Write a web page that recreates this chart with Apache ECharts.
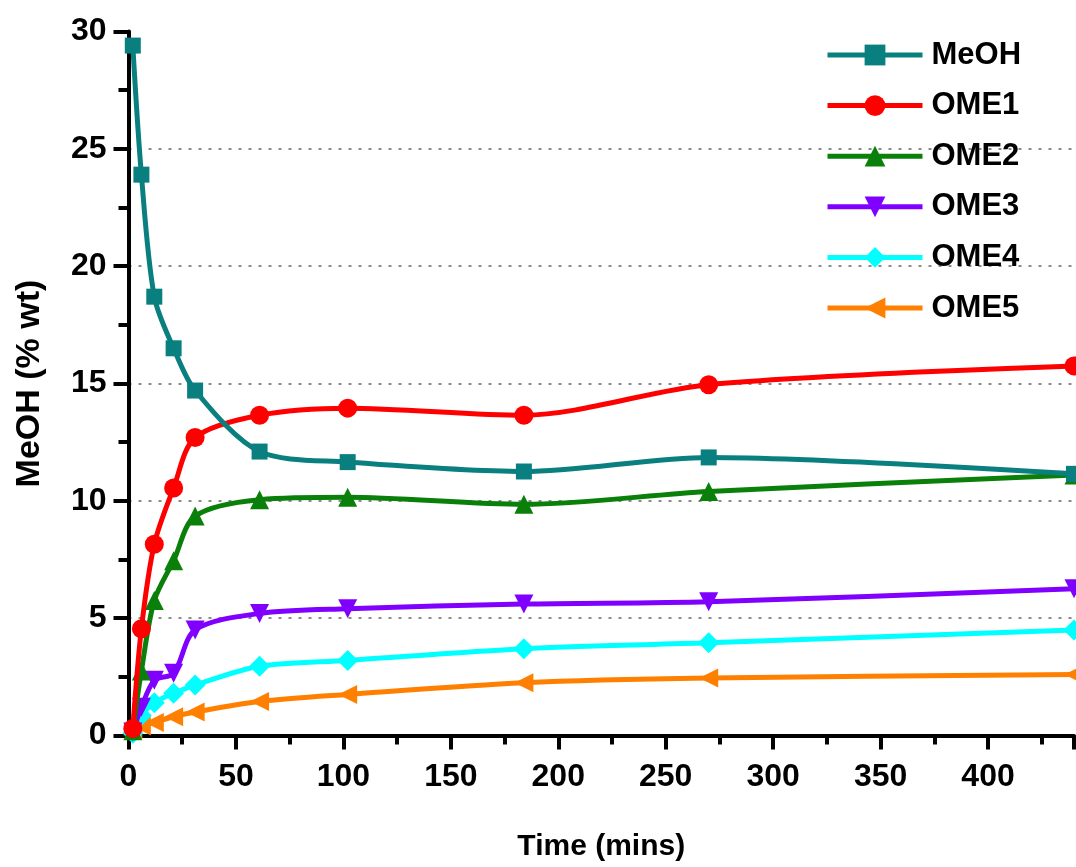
<!DOCTYPE html>
<html>
<head>
<meta charset="utf-8">
<script src="https://cdn.jsdelivr.net/npm/echarts@6/dist/echarts.min.js"></script>
<style>
html,body{margin:0;padding:0;background:#fff;}
#c{width:1076px;height:867px;}
</style>
</head>
<body>
<div id="c"></div>
<script>
// Time points (mins)
const times = [2, 6, 12, 21, 31, 61, 102, 184, 270, 440];
// Concentrations (% wt)
const meoh = [29.4, 23.9, 18.7, 16.5, 14.7, 12.1, 11.65, 11.25, 11.85, 11.15];
const ome1 = [0.3, 4.55, 8.15, 10.55, 12.7, 13.65, 13.95, 13.65, 14.95, 15.75];
const ome2 = [0.2, 2.75, 5.75, 7.45, 9.35, 10.05, 10.15, 9.85, 10.4, 11.1];
const ome3 = [0.15, 1.2, 2.35, 2.65, 4.5, 5.2, 5.4, 5.6, 5.7, 6.25];
const ome4 = [0.1, 0.85, 1.4, 1.8, 2.15, 2.95, 3.2, 3.7, 3.95, 4.5];
const ome5 = [0.25, 0.4, 0.55, 0.8, 1.0, 1.45, 1.75, 2.25, 2.45, 2.6];
const seriesNames = ['MeOH', 'OME1', 'OME2', 'OME3', 'OME4', 'OME5'];
const xTicks = [0, 50, 100, 150, 200, 250, 300, 350, 400];
const yTicks = [0, 5, 10, 15, 20, 25, 30];

const FONT = '"Liberation Sans", Arial, sans-serif';
const styles = [
  {color: '#0a7f7f', symbol: 'rect', size: 16, rotate: 0},
  {color: '#ff0000', symbol: 'circle', size: 19, rotate: 0},
  {color: '#0a800a', symbol: 'triangle', size: 19, rotate: 0},
  {color: '#8000ff', symbol: 'triangle', size: 19, rotate: 180},
  {color: '#00ffff', symbol: 'diamond', size: 21, rotate: 0},
  {color: '#ff8000', symbol: 'triangle', size: 19, rotate: 90}
];
const values = [meoh, ome1, ome2, ome3, ome4, ome5];

const series = seriesNames.map((name, i) => ({
  name: name,
  type: 'line',
  data: times.map((t, j) => [t, values[i][j]]),
  smooth: 0.3,
  symbol: styles[i].symbol,
  symbolSize: styles[i].size,
  symbolRotate: styles[i].rotate,
  showAllSymbol: true,
  clip: false,
  lineStyle: {color: styles[i].color, width: 5},
  itemStyle: {color: styles[i].color},
  emphasis: {disabled: true},
  z: 10 - i
}));

const chart = echarts.init(document.getElementById('c'), null, {renderer: 'canvas'});
chart.setOption({
  animation: false,
  backgroundColor: '#ffffff',
  grid: {left: 128.5, right: 2, top: 31.5, bottom: 131.5, containLabel: false},
  legend: {
    orient: 'vertical',
    left: 820,
    top: 34,
    itemWidth: 95,
    itemHeight: 26,
    itemGap: 18.6,
    data: seriesNames,
    lineStyle: {width: 5},
    textStyle: {
      fontFamily: FONT, fontWeight: 'bold', fontSize: 31, color: '#000',
      lineHeight: 32, padding: [0, 0, 0, 4]
    }
  },
  xAxis: {
    type: 'value',
    min: 0, max: 440, interval: 50,
    name: 'Time (mins)',
    nameLocation: 'middle',
    nameGap: 96,
    nameTextStyle: {fontFamily: FONT, fontWeight: 'bold', fontSize: 30, color: '#000'},
    axisLine: {show: true, lineStyle: {color: '#000', width: 4}},
    axisTick: {show: true, inside: false, length: 14, lineStyle: {color: '#000', width: 4}},
    minorTick: {show: true, splitNumber: 2, length: 9, lineStyle: {color: '#000', width: 4}},
    axisLabel: {
      fontFamily: FONT, fontWeight: 'bold', fontSize: 32, color: '#000', margin: 26,
      customValues: xTicks
    },
    splitLine: {show: false}
  },
  yAxis: {
    type: 'value',
    min: 0, max: 30, interval: 5,
    name: 'MeOH (% wt)',
    nameLocation: 'middle',
    nameGap: 82,
    nameTextStyle: {fontFamily: FONT, fontWeight: 'bold', fontSize: 34, color: '#000'},
    axisLine: {show: true, lineStyle: {color: '#000', width: 4}},
    axisTick: {show: true, inside: false, length: 15, lineStyle: {color: '#000', width: 4}},
    minorTick: {show: true, splitNumber: 2, length: 10, lineStyle: {color: '#000', width: 4}},
    axisLabel: {
      fontFamily: FONT, fontWeight: 'bold', fontSize: 32, color: '#000', margin: 22,
      customValues: yTicks
    },
    splitLine: {
      show: true, showMinLine: false, showMaxLine: false,
      lineStyle: {color: '#8c8c8c', width: 2, type: [3, 7]}
    }
  },
  series: series
});
</script>
</body>
</html>
